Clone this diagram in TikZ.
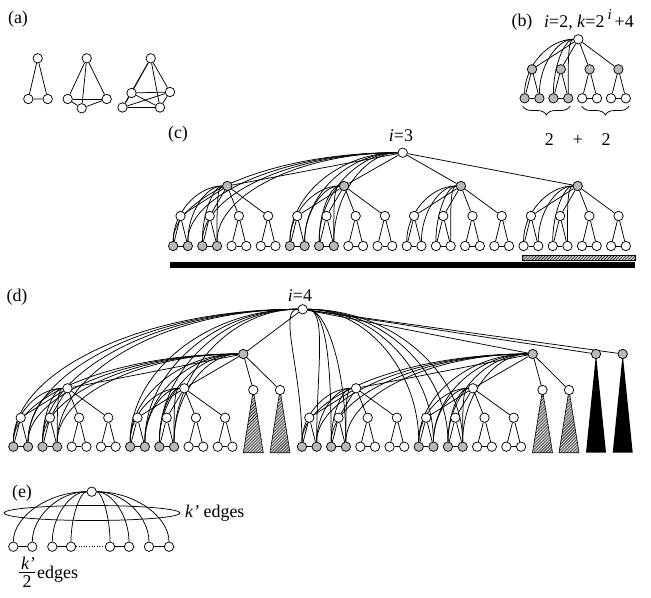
\documentclass[tikz,border=0pt]{standalone}
\usepackage{fontspec}
\setmainfont{Liberation Serif}
\usetikzlibrary{calc,decorations.pathreplacing,patterns,shapes.geometric}
\pgfdeclarelayer{bg}
\pgfsetlayers{bg,main}
\tikzset{
  v/.style={circle,draw,fill=white,inner sep=0pt,minimum size=9.4bp,line width=0.75bp},
  gv/.style={v,fill=gray!55},
  e/.style={line width=0.75bp},
  lbl/.style={font=\fontsize{18}{20}\selectfont,inner sep=0pt},
  hatchbox/.style={draw,line width=0.6bp,preaction={fill=gray!40},pattern=north east lines},
}
\newcommand\crv[2]{%
  \draw[e] let \p1=(#1), \p2=(#2),
    \n1={max(0.55*abs(\x2-\x1),0.18*abs(\y2-\y1))*ifthenelse(\x2<\x1,-1,1)},
    \n2={0.55*abs(\y2-\y1)} in
    (#1) .. controls +(\n1,0pt) and +(0pt,\n2) .. (#2);}
\newcommand\setfc[1]{\ifcase#1\or\def\fc{gray!55}\or\def\fc{gray!55}\or\def\fc{white}\or\def\fc{white}\or\def\fc{gray!55}\or\def\fc{gray!55}\else\def\fc{white}\fi}
\begin{document}
\begin{tikzpicture}[x=1bp,y=1bp]
\useasboundingbox (0,0) rectangle (651,-598);
% ---------- labels
\node[lbl] (la) at (18,-19) {(a)};
\node[lbl] (lb) at (522,-22) {(b)};
\node[lbl,anchor=west] (lbt) at (544,-20) {\textit{i}=2, \textit{k}=2\,\raisebox{0.45em}{\fontsize{15}{15}\selectfont\itshape i}\,+4};
\node[lbl] (lc) at (178,-134) {(c)};
\node[lbl] (lct) at (401,-136) {\textit{i}=3};
\node[lbl] (ld) at (17,-297) {(d)};
\node[lbl] (ldt) at (300,-296) {\textit{i}=4};
\node[lbl] (le) at (22,-493) {(e)};
% ---------- (a)
\node[v] (a1) at (37.7,-58.3) {};
\node[v] (a2) at (28.3,-99) {};
\node[v] (a3) at (47.7,-99) {};
\node[v] (k1) at (86.7,-58.3) {};
\node[v] (k2) at (67.7,-99) {};
\node[v] (k3) at (106.7,-99) {};
\node[v] (k4) at (81.7,-108.3) {};
\node[v] (p1) at (150.7,-58.3) {};
\node[v] (p2) at (131.5,-93) {};
\node[v] (p3) at (170,-92) {};
\node[v] (p4) at (122.5,-107.5) {};
\node[v] (p5) at (160,-107.5) {};
\begin{pgfonlayer}{bg}
\draw[e] (a1)--(a2) (a2)--(a3) (a3)--(a1);
\foreach \u/\w in {k1/k2,k1/k3,k1/k4,k2/k3,k2/k4,k3/k4} \draw[e] (\u)--(\w);
\foreach \u/\w in {p1/p2,p1/p3,p1/p4,p1/p5,p2/p3,p2/p4,p2/p5,p3/p4,p3/p5,p4/p5} \draw[e] (\u)--(\w);
\end{pgfonlayer}
% ---------- (b)
\node[v] (b0) at (578.3,-39.3) {};
\foreach \j in {1,...,4}{
  \pgfmathsetmacro\cx{532+28.8*(\j-1)}
  \ifnum\j<3 \def\fc{gray!55}\else\def\fc{white}\fi
  \node[gv] (bc\j) at (\cx,-69.3) {};
  \node[v,fill=\fc] (bl\j-a) at (\cx-7.4,-98.3) {};
  \node[v,fill=\fc] (bl\j-b) at (\cx+7.4,-98.3) {};
}
\begin{pgfonlayer}{bg}
\foreach \j in {1,...,4}{
  \draw[e] (b0)--(bc\j);
  \draw[e] (bl\j-a)--(bc\j)--(bl\j-b);
  \draw[e] (bl\j-a)--(bl\j-b);
}
\foreach \t in {bl1-a,bl1-b,bl2-a,bl2-b} {\crv{b0}{\t}}
\end{pgfonlayer}
\coordinate (br1) at (522.7,-106);
\coordinate (br2) at (570,-106);
\coordinate (br3) at (581.7,-106);
\coordinate (br4) at (629,-106);
\draw[e,decorate,decoration={brace,mirror,amplitude=9bp}] (br1) -- (br2);
\draw[e,decorate,decoration={brace,mirror,amplitude=9bp}] (br3) -- (br4);
\node[lbl] (n2a) at (549.3,-140) {2};
\node[lbl] (npl) at (578,-140) {+};
\node[lbl] (n2b) at (606,-140) {2};
% ---------- (c)
\node[v] (c0) at (402.7,-152.7) {};
\foreach \j in {1,...,4}{
  \pgfmathsetmacro\lx{180.5+29.2*(4*\j-2.5)+3}
  \node[gv] (cL\j) at (\lx,-186) {};
}
\foreach \m in {1,...,16}{
  \pgfmathsetmacro\mx{180.5+29.2*(\m-1)}
  \setfc{\m}
  \node[v] (cM\m) at (\mx,-216) {};
  \node[v,fill=\fc] (cM\m-a) at (\mx-7.35,-246) {};
  \node[v,fill=\fc] (cM\m-b) at (\mx+7.35,-246) {};
}
\begin{pgfonlayer}{bg}
\foreach \j in {1,...,4}{
  \draw[e] (c0)--(cL\j);
  \foreach \q in {1,...,4}{
    \pgfmathtruncatemacro\m{4*(\j-1)+\q}
    \draw[e] (cL\j)--(cM\m);
  }
  \pgfmathtruncatemacro\ma{4*(\j-1)+1}
  \pgfmathtruncatemacro\mb{4*(\j-1)+2}
  \crv{cL\j}{cM\ma-a}\crv{cL\j}{cM\ma-b}\crv{cL\j}{cM\mb-a}\crv{cL\j}{cM\mb-b}
}
\foreach \m in {1,...,16}{
  \draw[e] (cM\m-a)--(cM\m)--(cM\m-b);
  \draw[e] (cM\m-a)--(cM\m-b);
}
\foreach \m in {1,2,5,6}{\crv{c0}{cM\m-a}\crv{c0}{cM\m-b}}
\end{pgfonlayer}
\coordinate (bk1) at (170,-261.5);
\coordinate (bk2) at (635,-268.3);
\fill (bk1) rectangle (bk2);
\coordinate (hb1) at (522.7,-255);
\coordinate (hb2) at (635,-260);
\draw[hatchbox] (hb1) rectangle (hb2);
% ---------- (d)
\node[v] (d0) at (302.7,-309.3) {};
\node[gv] (dA) at (243.3,-354) {};
\node[gv] (dE) at (532.7,-354) {};
\node[gv] (dF) at (596,-354) {};
\node[gv] (dG) at (622.7,-354) {};
\node[v] (dP1) at (67.5,-388.3) {};
\node[v] (dP2) at (184.3,-388.3) {};
\node[v] (dP3) at (253.3,-390) {};
\node[v] (dP4) at (280,-390) {};
\node[v] (dQ1) at (356.1,-388.3) {};
\node[v] (dQ2) at (472.9,-388.3) {};
\node[v] (dQ3) at (542.5,-390) {};
\node[v] (dQ4) at (569,-390) {};
\foreach \m in {1,...,8}{
  \setfc{\m}
  \pgfmathsetmacro\bx{20.7+29.2*(\m-1)}
  \pgfmathsetmacro\cx{309.3+29.2*(\m-1)}
  \node[v] (dB\m) at (\bx,-417.7) {};
  \node[v,fill=\fc] (dB\m-a) at (\bx-7.35,-446.7) {};
  \node[v,fill=\fc] (dB\m-b) at (\bx+7.35,-446.7) {};
  \node[v] (dC\m) at (\cx,-417.7) {};
  \node[v,fill=\fc] (dC\m-a) at (\cx-7.35,-446.7) {};
  \node[v,fill=\fc] (dC\m-b) at (\cx+7.35,-446.7) {};
}
\begin{pgfonlayer}{bg}
\foreach \t in {dP3,dP4,dQ3,dQ4}{
  \draw[hatchbox] (\t.center) -- ++(-10,-62.7) -- ++(20,0) -- cycle;
}
\foreach \t in {dF,dG}{
  \fill (\t.center) -- ++(-10,-98.7) -- ++(20,0) -- cycle;
}
\foreach \t in {dA,dE,dF,dG} \draw[e] (d0)--(\t);
\foreach \t in {dP1,dP2,dP3,dP4} \draw[e] (dA)--(\t);
\foreach \t in {dQ1,dQ2,dQ3,dQ4} \draw[e] (dE)--(\t);
\foreach \m in {1,...,4}{\draw[e] (dP1)--(dB\m); \draw[e] (dQ1)--(dC\m);}
\foreach \m in {5,...,8}{\draw[e] (dP2)--(dB\m); \draw[e] (dQ2)--(dC\m);}
\foreach \m in {1,...,8}{
  \draw[e] (dB\m-a)--(dB\m)--(dB\m-b);
  \draw[e] (dB\m-a)--(dB\m-b);
  \draw[e] (dC\m-a)--(dC\m)--(dC\m-b);
  \draw[e] (dC\m-a)--(dC\m-b);
}
\foreach \m in {1,2}{
  \crv{dP1}{dB\m-a}\crv{dP1}{dB\m-b}\crv{dQ1}{dC\m-a}\crv{dQ1}{dC\m-b}}
\foreach \m in {5,6}{
  \crv{dP2}{dB\m-a}\crv{dP2}{dB\m-b}\crv{dQ2}{dC\m-a}\crv{dQ2}{dC\m-b}}
\foreach \m in {1,2,5,6}{
  \crv{dA}{dB\m-a}\crv{dA}{dB\m-b}\crv{dE}{dC\m-a}\crv{dE}{dC\m-b}
  \crv{d0}{dB\m-a}\crv{d0}{dB\m-b}\crv{d0}{dC\m-a}\crv{d0}{dC\m-b}}
\end{pgfonlayer}
% ---------- (e)
\node[v] (e0) at (91.7,-491.7) {};
\foreach \i/\x in {1/13.3,2/32.3,3/52.3,4/71,5/110,6/129,7/149,8/169}{
  \node[v] (e\i) at (\x,-546.7) {};
}
\begin{pgfonlayer}{bg}
\foreach \i in {1,...,8}{\crv{e0}{e\i}}
\draw[e] (e1)--(e2) (e3)--(e4) (e5)--(e6) (e7)--(e8);
\draw[line width=0.6bp,dotted] (e4)--(e5);
\end{pgfonlayer}
\node[draw,ellipse,line width=0.75bp,minimum width=176bp,minimum height=15bp,inner sep=0pt] (ell) at (92,-513) {};
\node[lbl,anchor=west] (ke) at (185,-513) {\textit{k'} edges};
\node[lbl] (fk) at (28,-563) {\textit{k'}};
\node[lbl] (f2) at (27,-582) {2};
\draw[line width=0.75bp] (19,-572) -- (35,-572);
\node[lbl,anchor=base west] (fe) at (37,-578) {edges};
\end{tikzpicture}
\end{document}
